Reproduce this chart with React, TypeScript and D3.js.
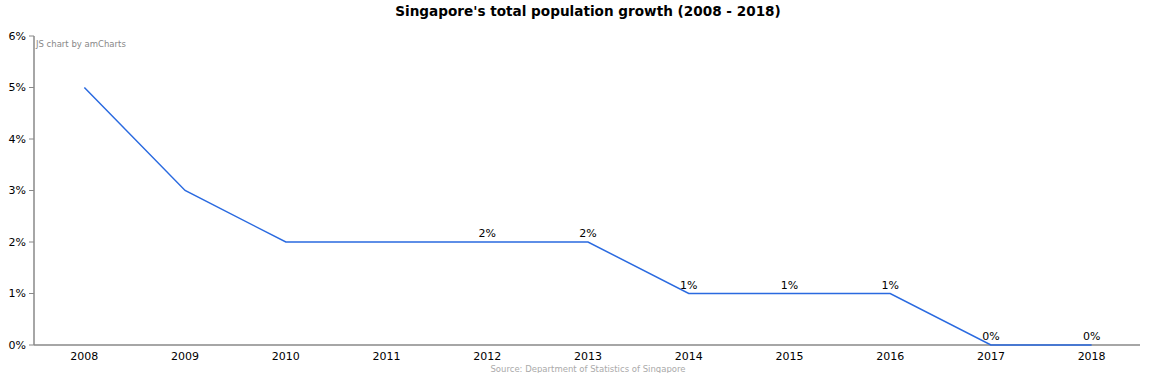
import { useMemo } from "react";
import * as d3 from "d3";

const WIDTH = 1152;
const HEIGHT = 373;
const MARGIN = { top: 36, right: 10, bottom: 28, left: 34 };

const years = ["2008", "2009", "2010", "2011", "2012", "2013", "2014", "2015", "2016", "2017", "2018"];
const growth = [5, 3, 2, 2, 2, 2, 1, 1, 1, 0, 0];
// amCharts hid the first few value labels (overlap), only these are shown
const labelledYears = ["2012", "2013", "2014", "2015", "2016", "2017", "2018"];
const yTicks = [0, 1, 2, 3, 4, 5, 6];

const FONT = "Verdana, 'DejaVu Sans', sans-serif";

export default function App() {
  const boundsWidth = WIDTH - MARGIN.left - MARGIN.right;
  const boundsHeight = HEIGHT - MARGIN.top - MARGIN.bottom;

  const xScale = useMemo(
    () => d3.scaleBand().domain(years).range([0, boundsWidth]),
    [boundsWidth]
  );
  const yScale = useMemo(
    () => d3.scaleLinear().domain([0, 6]).range([boundsHeight, 0]),
    [boundsHeight]
  );

  const points = years.map((y, i) => ({ year: y, value: growth[i] }));
  const cx = (y: string) => (xScale(y) ?? 0) + xScale.bandwidth() / 2;

  const linePath = d3
    .line<{ year: string; value: number }>()
    .x((d) => cx(d.year))
    .y((d) => yScale(d.value))(points);

  return (
    <svg
      width={WIDTH}
      height={HEIGHT}
      style={{ position: "absolute", left: 0, top: 0, background: "#fff" }}
      fontFamily={FONT}
    >
      <text
        x={MARGIN.left + boundsWidth / 2}
        y={16}
        textAnchor="middle"
        fontSize={13.6}
        fontWeight="bold"
        fill="#000"
      >
        Singapore's total population growth (2008 - 2018)
      </text>

      <g transform={`translate(${MARGIN.left},${MARGIN.top})`}>
        <text x={2} y={11} fontSize={8.5} fill="#888">
          JS chart by amCharts
        </text>

        {/* y axis */}
        <line x1={0} x2={0} y1={0} y2={boundsHeight} stroke="#888" strokeWidth={1.5} />
        {yTicks.map((t) => (
          <g key={t} transform={`translate(0,${yScale(t)})`}>
            <line x1={-5} x2={0} stroke="#888" />
            <text x={-8} dy="0.32em" textAnchor="end" fontSize={11} fill="#000">
              {t}%
            </text>
          </g>
        ))}

        {/* x axis */}
        <line
          x1={0}
          x2={boundsWidth - 2}
          y1={boundsHeight}
          y2={boundsHeight}
          stroke="#888"
          strokeWidth={1.5}
        />
        {years.map((y) => (
          <text
            key={y}
            x={cx(y)}
            y={boundsHeight + 15}
            textAnchor="middle"
            fontSize={11}
            fill="#000"
          >
            {y}
          </text>
        ))}

        {linePath && (
          <path d={linePath} fill="none" stroke="#2a6ae0" strokeWidth={1.5} />
        )}

        {points
          .filter((d) => labelledYears.includes(d.year))
          .map((d) => (
            <text
              key={d.year}
              x={cx(d.year)}
              y={yScale(d.value) - 5}
              textAnchor="middle"
              fontSize={11}
              fill="#000"
            >
              {d.value}%
            </text>
          ))}

        <text
          x={boundsWidth / 2}
          y={boundsHeight + 26.5}
          textAnchor="middle"
          fontSize={8.5}
          fill="#aaa"
        >
          Source: Department of Statistics of Singapore
        </text>
      </g>
    </svg>
  );
}
